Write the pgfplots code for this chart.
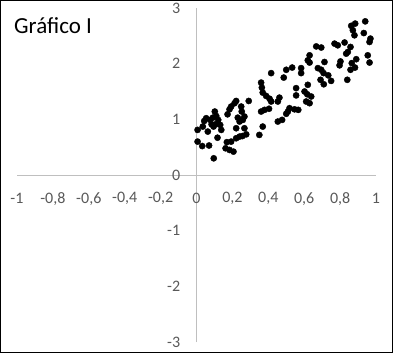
\documentclass[border=0pt]{standalone}
\usepackage{fontspec}
\setmainfont{Carlito}
\usepackage{pgfplots}
\usepackage{pgfplotstable}
\pgfplotsset{compat=1.18}
\definecolor{axisgray}{HTML}{BFBFBF}
\definecolor{labelgray}{HTML}{595959}
\pgfplotstableread{
x y
0.006 0.81
0.006 0.60
0.032 0.52
0.070 0.53
0.096 0.30
0.043 0.97
0.054 1.02
0.035 0.87
0.063 0.78
0.076 0.99
0.091 1.03
0.102 1.14
0.110 1.06
0.121 0.99
0.095 0.87
0.084 0.91
0.106 0.91
0.132 0.90
0.138 0.81
0.117 0.67
0.162 0.48
0.169 0.59
0.193 0.60
0.184 0.45
0.206 0.42
0.221 0.66
0.240 0.69
0.256 0.70
0.277 0.73
0.350 0.72
0.184 1.18
0.193 1.23
0.212 1.29
0.221 1.33
0.249 1.23
0.252 1.14
0.267 1.05
0.258 0.99
0.240 0.96
0.230 1.03
0.221 0.84
0.267 0.84
0.291 1.33
0.173 1.09
0.369 0.87
0.360 1.14
0.379 1.17
0.404 1.19
0.509 1.14
0.518 1.20
0.500 1.10
0.546 1.18
0.567 1.17
0.453 0.96
0.477 0.99
0.360 1.66
0.364 1.57
0.369 1.48
0.388 1.42
0.407 1.37
0.416 1.32
0.462 1.39
0.453 1.32
0.416 1.83
0.500 1.89
0.533 1.93
0.583 1.92
0.583 1.83
0.620 2.06
0.630 2.02
0.676 1.92
0.695 1.89
0.486 1.75
0.555 1.56
0.555 1.43
0.620 1.62
0.602 1.50
0.617 1.45
0.639 1.41
0.611 1.32
0.630 1.29
0.691 1.71
0.709 1.63
0.630 2.15
0.667 2.31
0.695 2.29
0.940 2.76
0.884 2.72
0.862 2.68
0.871 2.60
0.880 2.51
0.932 2.55
0.969 2.45
0.964 2.39
0.769 2.36
0.787 2.33
0.825 2.38
0.858 2.30
0.843 2.21
0.834 2.18
0.802 2.04
0.797 1.97
0.865 2.01
0.890 2.08
0.954 2.15
0.964 2.02
0.713 2.03
0.858 1.89
0.883 1.93
0.708 1.83
0.734 1.79
0.750 1.69
0.840 1.71
}\pts
\begin{document}
\begin{tikzpicture}[x=1pt,y=1pt]
\useasboundingbox (0,0) rectangle (393,353);
\fill[white] (0,0) rectangle (393,353);
\begin{axis}[
  at={(17pt,11pt)}, anchor=south west,
  scale only axis, width=359pt, height=334pt,
  xmin=-1, xmax=1, ymin=-3, ymax=3,
  axis lines=middle,
  axis line style={draw=axisgray, line width=1pt, -},
  hide obscured x ticks=false, hide obscured y ticks=false,
  tick style={draw=none},
  xtick={-1,-0.8,-0.6,-0.4,-0.2,0,0.2,0.4,0.6,0.8,1},
  xticklabels={-1,{-0,8},{-0,6},{-0,4},{-0,2},0,{0,2},{0,4},{0,6},{0,8},1},
  ytick={-3,-2,-1,0,1,2,3},
  yticklabels={-3,-2,-1,0,1,2,3},
  xticklabel style={font=\fontsize{16}{16}\selectfont, text=labelgray, anchor=center, yshift=-21.5pt, inner sep=0pt},
  yticklabel style={font=\fontsize{16}{16}\selectfont, text=labelgray, anchor=east, xshift=-14pt, inner sep=0pt},
  clip=false,
]
\addplot[only marks, mark=*, mark size=3.1pt, mark options={fill=black, draw=black}] table[x=x, y=y] {\pts};
\end{axis}
\node[anchor=base west, font=\fontsize{23}{23}\selectfont, inner sep=0pt] at (14,319.7) {Gráfico I};
\draw[line width=1pt, black] (0.5,0.5) rectangle (392.5,352.5);
\end{tikzpicture}
\end{document}
